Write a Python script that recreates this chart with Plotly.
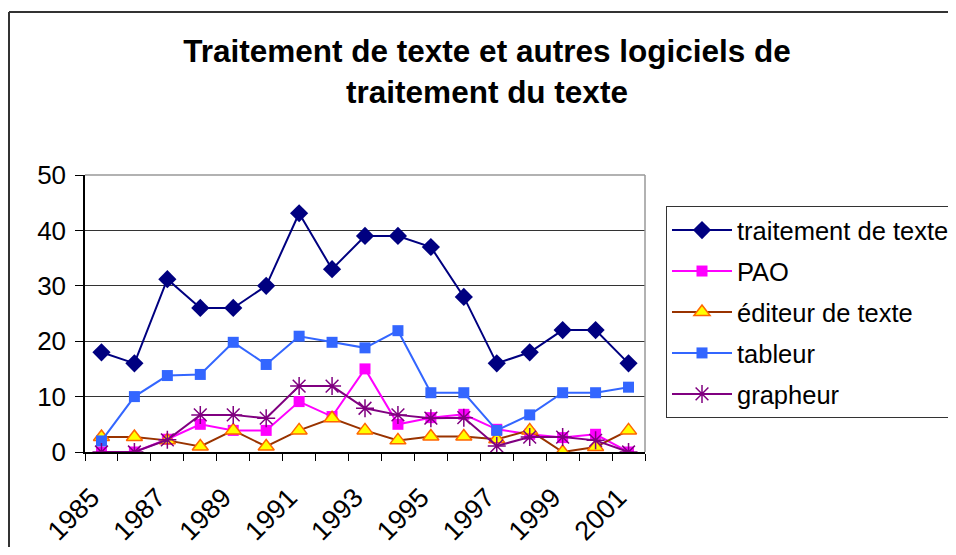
import plotly.graph_objects as go

years = list(range(1985, 2002))
traitement = [18, 16, 31.2, 26, 26, 30, 43.1, 33, 39, 39, 37, 28, 16, 18, 22, 22, 16]
pao = [0, 0, 2.3, 5, 3.9, 3.9, 9.1, 6.4, 15, 5, 6.2, 6.8, 4.1, 3.2, 2.6, 3.2, 0]
editeur = [2.7, 2.7, 2.1, 1, 3.9, 1, 3.9, 6.1, 3.9, 2.1, 2.8, 2.8, 2.3, 3.9, 0, 0.9, 3.9]
tableur = [2, 10, 13.8, 14, 19.8, 15.8, 20.9, 19.8, 18.8, 21.9, 10.7, 10.7, 3.9, 6.7, 10.7, 10.7, 11.7]
grapheur = [0, 0, 2.2, 6.7, 6.7, 6.1, 11.9, 11.9, 7.9, 6.7, 6.1, 6.2, 1.1, 2.7, 2.7, 2.1, 0]
label_years = list(range(1985, 2002, 2))
y_ticks = [0, 10, 20, 30, 40, 50]

FONT = "Arial, Liberation Sans, sans-serif"

fig = go.Figure()
fig.add_trace(go.Scatter(x=years, y=traitement, name="traitement de texte", mode="lines+markers",
                         line=dict(color="#000080", width=2),
                         marker=dict(symbol="diamond", size=14, color="#000080"), legendgroup="a"))
fig.add_trace(go.Scatter(x=years, y=pao, name="PAO", mode="lines+markers",
                         line=dict(color="#FF00FF", width=2),
                         marker=dict(symbol="square", size=11, color="#FF00FF"), legendgroup="b"))
fig.add_trace(go.Scatter(x=years, y=editeur, name="éditeur de texte", mode="lines+markers",
                         line=dict(color="#993300", width=2),
                         marker=dict(symbol="triangle-up", size=14, color="#FFFF00",
                                     line=dict(color="#FF6600", width=1.5)), legendgroup="c"))
fig.add_trace(go.Scatter(x=years, y=tableur, name="tableur", mode="lines+markers",
                         line=dict(color="#3366FF", width=2),
                         marker=dict(symbol="square", size=11, color="#3366FF"), legendgroup="d"))
fig.add_trace(go.Scatter(x=years, y=grapheur, name="grapheur", mode="lines+markers",
                         line=dict(color="#800080", width=2),
                         marker=dict(symbol="asterisk-open", size=15, color="#800080",
                                     line=dict(color="#800080", width=1.5)), legendgroup="e"))

# page body has an 8px margin: work in figure coordinates = screen - 8,
# and keep the figure inside the viewport
W, H = 940, 539
L, T = 77, 167
R = W - (645 - 8)
B = H - (452 - 8)
pw, ph = W - L - R, H - T - B

def px(sx):
    return (sx - 8 - L) / pw

def py(sy):
    return (H - B - (sy - 8)) / ph

fig.update_layout(
    width=W, height=H,
    margin=dict(l=L, r=R, t=T, b=B, autoexpand=False),
    paper_bgcolor="white", plot_bgcolor="white",
    font=dict(family=FONT, size=24, color="black"),
    title=dict(text="Traitement de texte et autres logiciels de<br>traitement du texte",
               font=dict(family=FONT, size=31.5, color="black", weight="bold"),
               x=479 / W, xanchor="center", xref="container",
               y=1 - 54 / H, yanchor="top", yref="container"),
    xaxis=dict(range=[1984.5, 2001.5], tickvals=[y - 0.5 for y in years] + [2001.5],
               showticklabels=False, ticks="outside", ticklen=7, tickcolor="black",
               showline=True, linecolor="black", linewidth=1.5, showgrid=False, zeroline=False),
    xaxis2=dict(range=[1984.5, 2001.5], overlaying="x", anchor="y", side="bottom",
                tickvals=[y - 0.3 for y in label_years], ticktext=[str(y) for y in label_years],
                tickangle=-45, ticks="outside", ticklen=18, tickcolor="rgba(0,0,0,0)",
                showline=False, showgrid=False, zeroline=False,
                tickfont=dict(family=FONT, size=27, color="black")),
    yaxis=dict(range=[0, 50], tickvals=y_ticks, ticks="outside", ticklen=8, tickcolor="black",
               showline=True, linecolor="black", linewidth=1.5,
               showgrid=True, gridcolor="#333333", gridwidth=1, zeroline=False,
               ticklabelstandoff=4,
               tickfont=dict(family=FONT, size=26, color="black")),
    legend=dict(x=px(666), y=py(206), xanchor="left", yanchor="top",
                bordercolor="#333333", borderwidth=1, bgcolor="white",
                font=dict(family=FONT, size=25.5, color="black"),
                tracegroupgap=4.8, itemwidth=60),
    shapes=[
        dict(type="line", xref="paper", yref="paper", x0=0, x1=1, y0=1, y1=1,
             line=dict(color="#999999", width=1.5)),
        dict(type="line", xref="paper", yref="paper", x0=1, x1=1, y0=0, y1=1,
             line=dict(color="#999999", width=1.5)),
        dict(type="line", xref="paper", yref="paper", x0=px(9), x1=px(9),
             y0=py(560), y1=py(12), line=dict(color="#333333", width=2)),
        dict(type="line", xref="paper", yref="paper", x0=px(9), x1=px(956),
             y0=py(12), y1=py(12), line=dict(color="#333333", width=2)),
    ],
)
# invisible trace to activate the label axis
fig.add_trace(go.Scatter(x=[1985], y=[None], xaxis="x2", showlegend=False, hoverinfo="skip"))

fig.write_html("out.html")
